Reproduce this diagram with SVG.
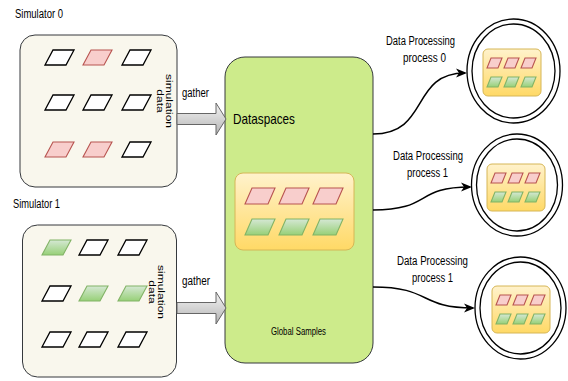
<svg xmlns="http://www.w3.org/2000/svg" xmlns:xlink="http://www.w3.org/1999/xlink" width="568" height="381" viewBox="0 0 568 381">
  <style>
    text { font-family: "Liberation Sans", Arial, sans-serif; fill: #000; }
    .sim { fill: #f9f7ed; stroke: #36393d; stroke-width: 1; }
    .ds { fill: #cdeb8b; stroke: #36393d; stroke-width: 1; }
    .ybox { fill: url(#yellowGrad); stroke: #d6b656; stroke-width: 1; }
    .blank { fill: #ffffff; stroke: #000; stroke-width: 1.3; }
    .red { fill: #f8cecc; stroke: #b85450; stroke-width: 1.1; }
    .green { fill: url(#greenGrad); stroke: #82b366; stroke-width: 1.1; }
    .ring { fill: #ffffff; stroke: #000; stroke-width: 1.3; }
    .ringIn { fill: none; stroke: #000; stroke-width: 1.3; }
    .edge { fill: none; stroke: #000; stroke-width: 1.5; }
    .block { fill: url(#grayGrad); stroke: #666666; stroke-width: 1; }
    .lbl { font-size: 12px; }
  </style>
  <defs>
    <linearGradient id="yellowGrad" x1="0" y1="0" x2="0" y2="1">
      <stop offset="0" stop-color="#fff2cc"/>
      <stop offset="1" stop-color="#ffd966"/>
    </linearGradient>
    <linearGradient id="greenGrad" x1="0" y1="0" x2="0" y2="1">
      <stop offset="0" stop-color="#d5e8d4"/>
      <stop offset="1" stop-color="#97d077"/>
    </linearGradient>
    <linearGradient id="grayGrad" x1="0" y1="0" x2="0" y2="1">
      <stop offset="0" stop-color="#f5f5f5"/>
      <stop offset="1" stop-color="#b3b3b3"/>
    </linearGradient>
    <!-- parallelogram cells in three sizes -->
    <path id="pg" d="M8,0H29L21,15H0Z"/>
    <path id="pgm" d="M7,0H30L23,16H0Z"/>
    <path id="pgs" d="M4,0H15L11,10H0Z"/>
    <!-- small sample block shown inside each processing node -->
    <g id="mini">
      <rect class="ybox" x="0" y="0" width="58" height="47" rx="5"/>
      <use href="#pgs" class="red" x="4" y="9"/>
      <use href="#pgs" class="red" x="21" y="9"/>
      <use href="#pgs" class="red" x="38" y="9"/>
      <use href="#pgs" class="green" x="4" y="28"/>
      <use href="#pgs" class="green" x="21" y="28"/>
      <use href="#pgs" class="green" x="38" y="28"/>
    </g>
    <marker id="arrow" markerUnits="userSpaceOnUse" markerWidth="12" markerHeight="10" viewBox="0 0 12 10" refX="9" refY="5" orient="auto">
      <path d="M0,0.5 L11,5 L0,9.5 L3,5 Z" fill="#000"/>
    </marker>
  </defs>

  <!-- Simulator 0 -->
  <g id="sim0">
    <text class="lbl" x="15" y="18" textLength="48" lengthAdjust="spacingAndGlyphs">Simulator 0</text>
    <rect class="sim" x="20" y="35" width="157" height="152" rx="15"/>
    <use href="#pg" class="blank" x="45" y="50"/>
    <use href="#pg" class="red" x="83" y="50"/>
    <use href="#pg" class="blank" x="122" y="50"/>
    <use href="#pg" class="blank" x="45" y="95"/>
    <use href="#pg" class="blank" x="83" y="95"/>
    <use href="#pg" class="blank" x="122" y="95"/>
    <use href="#pg" class="red" x="45" y="142"/>
    <use href="#pg" class="red" x="83" y="142"/>
    <use href="#pg" class="blank" x="122" y="142"/>
    <g transform="translate(166,101) scale(0.82,1) rotate(90)" font-size="12" text-anchor="middle">
      <text x="0" y="0">simulation</text>
      <text x="0" y="11">data</text>
    </g>
  </g>

  <!-- Simulator 1 -->
  <g id="sim1">
    <text class="lbl" x="13" y="208" textLength="47" lengthAdjust="spacingAndGlyphs">Simulator 1</text>
    <rect class="sim" x="22.5" y="225" width="154" height="152" rx="15"/>
    <use href="#pg" class="green" x="42" y="240"/>
    <use href="#pg" class="blank" x="79" y="240"/>
    <use href="#pg" class="blank" x="118" y="240"/>
    <use href="#pg" class="blank" x="42" y="286"/>
    <use href="#pg" class="green" x="79" y="286"/>
    <use href="#pg" class="green" x="118" y="286"/>
    <use href="#pg" class="blank" x="42" y="332"/>
    <use href="#pg" class="blank" x="79" y="332"/>
    <use href="#pg" class="blank" x="118" y="332"/>
    <g transform="translate(158,292) scale(0.82,1) rotate(90)" font-size="12" text-anchor="middle">
      <text x="0" y="0">simulation</text>
      <text x="0" y="11">data</text>
    </g>
  </g>

  <!-- Dataspaces -->
  <g id="dataspaces">
    <rect class="ds" x="225" y="57" width="148" height="306" rx="20"/>
    <text x="233" y="124" font-size="15" textLength="62" lengthAdjust="spacingAndGlyphs">Dataspaces</text>
    <rect class="ybox" x="235" y="173" width="119" height="77" rx="8"/>
    <use href="#pgm" class="red" x="245" y="188"/>
    <use href="#pgm" class="red" x="279" y="188"/>
    <use href="#pgm" class="red" x="313" y="188"/>
    <use href="#pgm" class="green" x="245" y="219"/>
    <use href="#pgm" class="green" x="279" y="219"/>
    <use href="#pgm" class="green" x="313" y="219"/>
    <text x="271" y="335" font-size="10" textLength="55" lengthAdjust="spacingAndGlyphs">Global Samples</text>
  </g>

  <!-- Processing nodes -->
  <g id="proc0">
    <ellipse class="ring" cx="513.5" cy="71" rx="46.5" ry="52"/>
    <ellipse class="ringIn" cx="513.5" cy="71" rx="41.5" ry="47"/>
    <use href="#mini" x="483" y="49"/>
  </g>
  <g id="proc1">
    <ellipse class="ring" cx="517" cy="185" rx="45.5" ry="51"/>
    <ellipse class="ringIn" cx="517" cy="185" rx="40.5" ry="46"/>
    <use href="#mini" x="487" y="164"/>
  </g>
  <g id="proc2">
    <ellipse class="ring" cx="520.5" cy="308" rx="45.5" ry="51"/>
    <ellipse class="ringIn" cx="520.5" cy="308" rx="40.5" ry="46"/>
    <use href="#mini" x="492" y="286"/>
  </g>

  <!-- Connectors -->
  <g id="connectors">
    <path class="block" d="M177,113.5 H216 V103 L226,119 L216,135 V124.5 H177 Z"/>
    <text class="lbl" x="182" y="97" textLength="27" lengthAdjust="spacingAndGlyphs">gather</text>
    <path class="block" d="M177,302.5 H216 V292 L226,308 L216,324 V313.5 H177 Z"/>
    <text class="lbl" x="182" y="285" textLength="28" lengthAdjust="spacingAndGlyphs">gather</text>

    <path class="edge" d="M373,134 C430,134 410,73 465,73" marker-end="url(#arrow)"/>
    <text class="lbl" x="386" y="45" textLength="69" lengthAdjust="spacingAndGlyphs">Data Processing</text>
    <text class="lbl" x="403" y="62" textLength="43" lengthAdjust="spacingAndGlyphs">process 0</text>

    <path class="edge" d="M373,210 C432,210 414,187 470,187" marker-end="url(#arrow)"/>
    <text class="lbl" x="393" y="160" textLength="70" lengthAdjust="spacingAndGlyphs">Data Processing</text>
    <text class="lbl" x="407" y="177" textLength="41" lengthAdjust="spacingAndGlyphs">process 1</text>

    <path class="edge" d="M373,287 C432,287 418,308 473,308" marker-end="url(#arrow)"/>
    <text class="lbl" x="397" y="265" textLength="71" lengthAdjust="spacingAndGlyphs">Data Processing</text>
    <text class="lbl" x="412" y="282" textLength="41" lengthAdjust="spacingAndGlyphs">process 1</text>
  </g>
</svg>
